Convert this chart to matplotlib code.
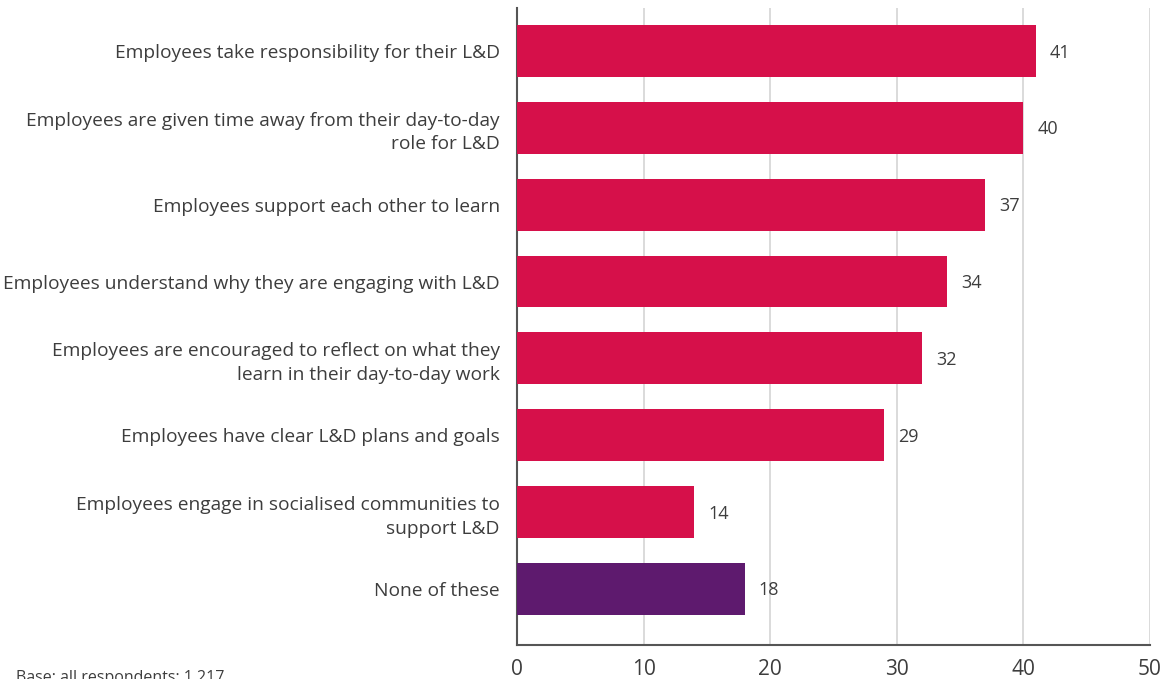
import matplotlib
matplotlib.use("Agg")
import matplotlib.pyplot as plt

categories = [
    "Employees take responsibility for their L&D",
    "Employees are given time away from their day-to-day\nrole for L&D",
    "Employees support each other to learn",
    "Employees understand why they are engaging with L&D",
    "Employees are encouraged to reflect on what they\nlearn in their day-to-day work",
    "Employees have clear L&D plans and goals",
    "Employees engage in socialised communities to\nsupport L&D",
    "None of these",
]
values = [41, 40, 37, 34, 32, 29, 14, 18]
bar_colors = ["#D6104A"] * 7 + ["#5E1A6E"]
xticks = [0, 10, 20, 30, 40, 50]

plt.rcParams['font.family'] = ['Open Sans', 'DejaVu Sans']
text_color = "#3d3d3d"

W, H = 1173, 679
fig = plt.figure(figsize=(W / 100, H / 100), dpi=100)
left, right, top, bottom = 517, 1150, 8, 645
ax = fig.add_axes([left / W, 1 - bottom / H, (right - left) / W, (bottom - top) / H])

y = list(range(len(categories)))
ax.barh(y, values, height=0.675, color=bar_colors, zorder=3)
for yi, v in zip(y, values):
    ax.text(v + 1.1, yi + 0.02, str(v), va='center', ha='left', fontsize=13, color=text_color)

ax.set_xlim(0, 50)
ax.set_ylim(len(categories) - 1 + 0.73, -0.56)
ax.set_yticks(y)
ax.set_yticklabels(categories, fontsize=13.8, color=text_color, linespacing=1.4)
ax.set_xticks(xticks)
ax.set_xticklabels([str(t) for t in xticks], fontsize=15, color=text_color)
ax.tick_params(axis='y', length=0, pad=12.5)
ax.tick_params(axis='x', length=0, pad=10)
ax.grid(axis='x', color='#d4d4d4', linewidth=1.2, zorder=0)
for s in ['top', 'right']:
    ax.spines[s].set_visible(False)
ax.spines['left'].set_color('#555555')
ax.spines['bottom'].set_color('#555555')
ax.spines['left'].set_linewidth(1.5)
ax.spines['bottom'].set_linewidth(1.5)

fig.text(16 / W, 1 - 682 / H, "Base: all respondents: 1,217", fontsize=11.5,
         color=text_color, va='baseline', ha='left')

fig.savefig("out.png", dpi=100)
